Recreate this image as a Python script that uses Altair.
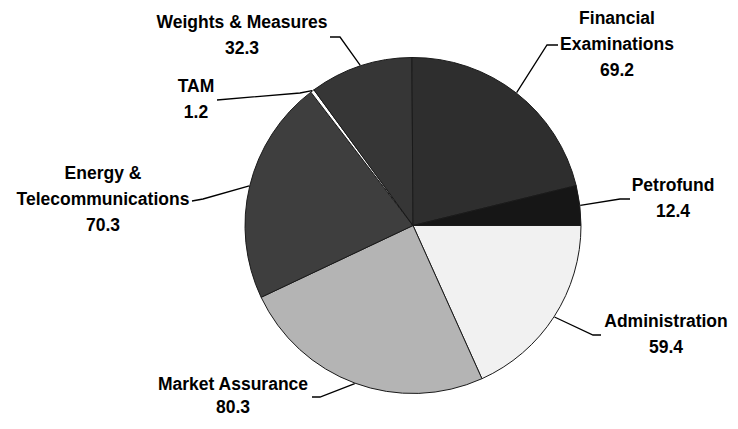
import math
import altair as alt
import pandas as pd

# ---- data ----
categories = ["Administration", "Market Assurance", "Energy & Telecommunications",
              "TAM", "Weights & Measures", "Financial Examinations", "Petrofund"]
values = [59.4, 80.3, 70.3, 1.2, 32.3, 69.2, 12.4]
label_names = [["Administration"], ["Market Assurance"], ["Energy &", "Telecommunications"],
               ["TAM"], ["Weights & Measures"], ["Financial", "Examinations"], ["Petrofund"]]
fills = ["#f1f1f1", "#b4b4b4", "#3e3e3e", "#ffffff", "#363636", "#2e2e2e", "#161616"]

# ---- layout (page pixel coordinates) ----
W, H = 722, 412
OFF = 8
CX, CY, R = 413, 225.5, 168
label_anchor = {  # centre x, first line y, line spacing
    "Administration": (666, 322, 26),
    "Market Assurance": (233, 385, 23),
    "Energy & Telecommunications": (103, 174, 26),
    "TAM": (196, 87, 26),
    "Weights & Measures": (242, 23, 26),
    "Financial Examinations": (617, 19, 26),
    "Petrofund": (673, 186, 26),
}
leader_start = {  # text end, elbow
    "Administration": [(601, 335), (593, 335)],
    "Market Assurance": [(312, 397), (320, 397)],
    "Energy & Telecommunications": [(192, 201), (203, 199)],
    "TAM": [(217, 100), (300, 93)],
    "Weights & Measures": [(330, 37), (340, 37)],
    "Financial Examinations": [(558, 45), (547, 45)],
    "Petrofund": [(630, 199), (620, 199)],
}

total = sum(values)
pie_df = pd.DataFrame({"category": categories, "value": values,
                       "order": list(range(len(categories)))})

text_rows, line_rows = [], []
cum = 0.0
for cat, v, names in zip(categories, values, label_names):
    mid = (cum + v / 2) / total * 2 * math.pi
    cum += v
    ax, ay, lh = label_anchor[cat]
    lines = names + [f"{v:.1f}"]
    for i, t in enumerate(lines):
        text_rows.append({"category": cat, "text": t, "x": ax - OFF, "y": ay + i * lh - OFF})
    pts = leader_start[cat] + [(CX + (R + 0.5) * math.cos(mid), CY + (R + 0.5) * math.sin(mid))]
    for j, (px, py) in enumerate(pts):
        line_rows.append({"category": cat, "seq": j, "x": px - OFF, "y": py - OFF})

text_df = pd.DataFrame(text_rows)
line_df = pd.DataFrame(line_rows)

xs = alt.Scale(domain=[0, W])
ys = alt.Scale(domain=[H, 0])

pie = alt.Chart(pie_df).mark_arc(radius=R, stroke="#1a1a1a", strokeWidth=1).encode(
    theta=alt.Theta("value:Q", stack=True,
                    scale=alt.Scale(range=[math.pi / 2, math.pi / 2 + 2 * math.pi])),
    order=alt.Order("order:Q"),
    color=alt.Color("category:N", scale=alt.Scale(domain=categories, range=fills), legend=None),
    x=alt.value(CX - OFF),
    y=alt.value(CY - OFF),
)

leaders = alt.Chart(line_df).mark_line(color="#000000", strokeWidth=1.3).encode(
    x=alt.X("x:Q", scale=xs, axis=None),
    y=alt.Y("y:Q", scale=ys, axis=None),
    detail="category:N",
    order="seq:Q",
)

labels = alt.Chart(text_df).mark_text(
    font="Liberation Sans", fontSize=17.5, fontWeight="bold", color="#000000",
    align="center", baseline="middle",
).encode(
    x=alt.X("x:Q", scale=xs, axis=None),
    y=alt.Y("y:Q", scale=ys, axis=None),
    text="text:N",
)

chart = alt.layer(pie, leaders, labels).properties(
    width=W, height=H, padding=0, autosize="none"
).configure_view(stroke=None)

chart.save("out.html", embed_options={"renderer": "svg", "actions": False})
